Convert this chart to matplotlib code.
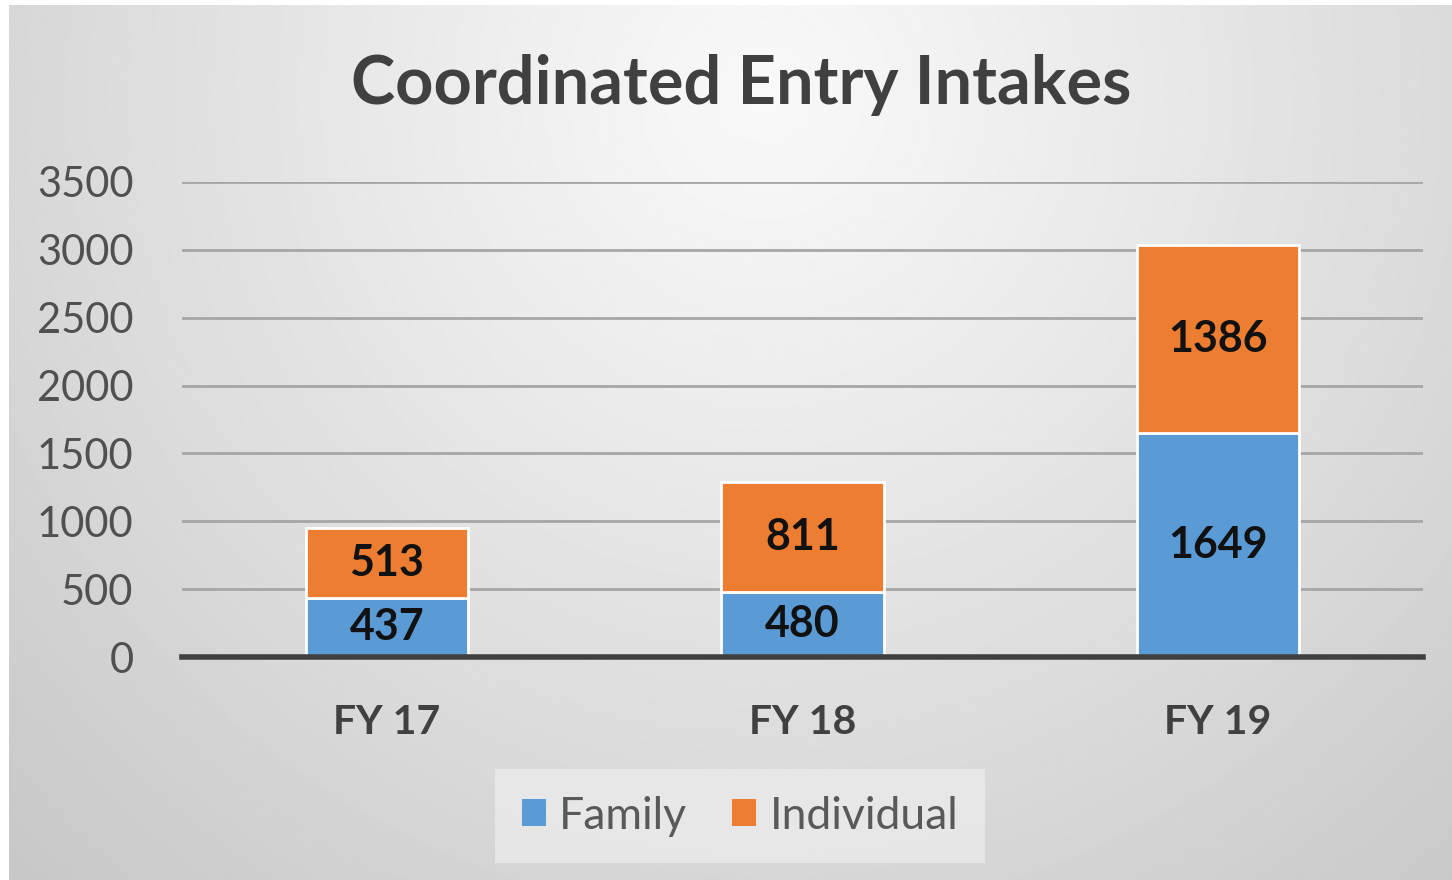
import numpy as np
import matplotlib
matplotlib.use("Agg")
import matplotlib.pyplot as plt
from matplotlib.patches import Patch

categories = ["FY 17", "FY 18", "FY 19"]
family = [437, 480, 1649]
individual = [513, 811, 1386]
yticks = [0, 500, 1000, 1500, 2000, 2500, 3000, 3500]
title = "Coordinated Entry Intakes"

W, H = 1452, 880
fig = plt.figure(figsize=(W / 100, H / 100), dpi=100)
fig.patch.set_facecolor("white")

# radial gradient background
bg = fig.add_axes([9 / W, 0, 1 - 9 / W, 1 - 5 / H])
yy, xx = np.mgrid[0:H, 0:W]
cx, cy = 760, 90
r = np.sqrt(((xx - cx) / 1.0) ** 2 + ((yy - cy) / 1.0) ** 2)
r = r / r.max()
inner, outer = 0.975, 0.78
img = inner - (inner - outer) * np.clip(r, 0, 1) ** 1.1
bg.imshow(img, cmap="gray", vmin=0, vmax=1, aspect="auto", extent=[0, 1, 0, 1], origin="upper")
bg.axis("off")

ax = fig.add_axes([182 / W, 1 - 657 / H, (1423 - 182) / W, (657 - 182) / H])
ax.patch.set_alpha(0)
x = np.arange(len(categories))
bw = 0.39
c_fam = "#5B9BD5"
c_ind = "#ED7D31"
ax.bar(x, family, bw, color=c_fam, edgecolor="white", linewidth=2, zorder=3)
ax.bar(x, individual, bw, bottom=family, color=c_ind, edgecolor="white", linewidth=2, zorder=3)

ax.set_xlim(-0.493, 2.493)
ax.set_ylim(0, 3500)
ax.set_yticks(yticks)
ax.set_yticklabels([str(v) for v in yticks])
ax.grid(axis="y", color="#a6a6a6", linewidth=2, zorder=0)
ax.set_axisbelow(True)
for s in ["top", "right", "left"]:
    ax.spines[s].set_visible(False)
ax.spines["bottom"].set_color("#404040")
ax.spines["bottom"].set_linewidth(4)
ax.spines["bottom"].set_zorder(4)
ax.tick_params(axis="y", length=0, pad=35, labelsize=30, labelcolor="#505050")
ax.tick_params(axis="x", length=0, pad=34, labelsize=29.5, labelcolor="#404040")
ax.set_xticks(x)
ax.set_xticklabels(categories, fontweight="bold")
for lbl in ax.get_yticklabels() + ax.get_xticklabels():
    lbl.set_fontfamily("Lato")

for i in range(len(categories)):
    ax.text(x[i], family[i] / 2, str(family[i]), ha="center", va="center",
            fontsize=31, fontweight="bold", family="Lato", color="#111111", zorder=5)
    ax.text(x[i], family[i] + individual[i] / 2, str(individual[i]), ha="center", va="center",
            fontsize=31, fontweight="bold", family="Lato", color="#111111", zorder=5)

fig.text(741 / W, 1 - 85 / H, title, ha="center", va="center", fontsize=48,
         fontweight="bold", family="Lato", color="#404040")

handles = [Patch(facecolor=c_fam, edgecolor="none"), Patch(facecolor=c_ind, edgecolor="none")]
leg = fig.legend(handles, ["Family", "Individual"], loc="center",
                 bbox_to_anchor=(740 / W, 1 - 816 / H), ncol=2, frameon=True,
                 prop={"family": "Lato", "size": 32}, handlelength=0.55, handleheight=0.55,
                 handletextpad=0.3, columnspacing=1.0, borderpad=0.6)
leg.get_frame().set_facecolor("#ebebeb")
leg.get_frame().set_alpha(0.8)
leg.get_frame().set_edgecolor("none")
leg.get_frame().set_boxstyle("square", pad=0)
for t in leg.get_texts():
    t.set_color("#595959")

fig.savefig("out.png", dpi=100)
